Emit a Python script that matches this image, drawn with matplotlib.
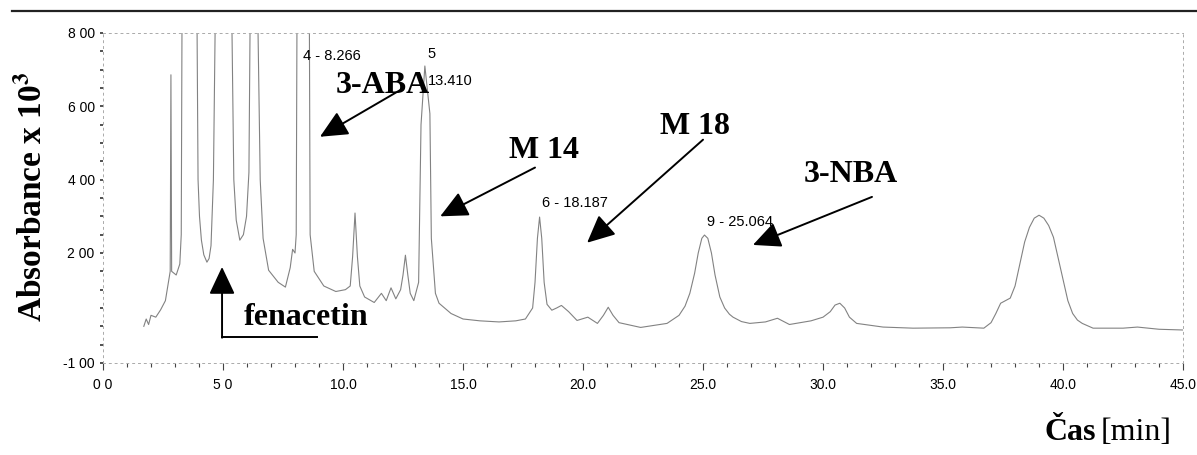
import matplotlib.pyplot as plt
from matplotlib.lines import Line2D

plt.rcParams['font.family'] = ['Liberation Sans', 'DejaVu Sans']
plt.rcParams['mathtext.fontset'] = 'stix'

# chromatogram trace (time in min, absorbance x 10^3 / 100)
cas = [1.7, 1.8, 1.9, 2.0, 2.2, 2.4, 2.6, 2.8, 2.83, 2.86, 3.05, 3.2, 3.26, 3.29, 3.6,
       3.92, 3.96, 4.02, 4.1, 4.2, 4.33, 4.42, 4.5, 4.6, 4.67, 5.0, 5.375, 5.45, 5.55,
       5.7, 5.85, 5.98, 6.08, 6.125, 6.3, 6.46, 6.55, 6.67, 6.9, 7.3, 7.6, 7.8, 7.9,
       8.0, 8.05, 8.08, 8.27, 8.6, 8.63, 8.8, 9.2, 9.7, 10.1, 10.3, 10.4, 10.5, 10.6,
       10.7, 10.9, 11.3, 11.6, 11.8, 12.0, 12.2, 12.4, 12.5, 12.6, 12.7, 12.8, 12.95,
       13.15, 13.25, 13.41, 13.62, 13.68, 13.85, 14.0, 14.5, 15.0, 15.7, 16.5, 17.2,
       17.6, 17.9, 18.0, 18.1, 18.19, 18.28, 18.38, 18.5, 18.7, 18.9, 19.1, 19.4,
       19.75, 20.2, 20.6, 20.85, 21.05, 21.25, 21.5, 22.4, 23.5, 24.0, 24.25, 24.45,
       24.65, 24.8, 24.95, 25.06, 25.2, 25.35, 25.5, 25.7, 25.9, 26.1, 26.25, 26.6,
       26.95, 27.6, 28.1, 28.6, 29.5, 30.0, 30.3, 30.5, 30.7, 30.9, 31.1, 31.4, 32.5,
       33.75, 35.3, 35.8, 36.7, 37.0, 37.2, 37.4, 37.8, 38.0, 38.2, 38.4, 38.6, 38.8,
       39.0, 39.2, 39.4, 39.6, 39.8, 40.0, 40.2, 40.4, 40.6, 40.8, 41.25, 42.5, 43.1,
       44.0, 45.0]
absorb = [0.0, 0.2, 0.05, 0.3, 0.25, 0.45, 0.7, 1.5, 6.86, 1.5, 1.4, 1.7, 2.5, 8.0, 11.0,
          8.0, 4.0, 3.0, 2.35, 1.95, 1.75, 1.85, 2.2, 4.0, 8.0, 11.0, 8.0, 4.0, 2.9,
          2.35, 2.5, 3.0, 4.2, 8.0, 11.0, 8.0, 4.0, 2.4, 1.53, 1.2, 1.07, 1.6, 2.1,
          2.0, 2.5, 8.0, 11.0, 8.0, 2.5, 1.5, 1.1, 0.95, 1.0, 1.1, 1.9, 3.09, 1.9,
          1.1, 0.8, 0.65, 0.9, 0.7, 1.05, 0.75, 1.0, 1.4, 1.94, 1.4, 0.9, 0.7,
          1.2, 5.5, 7.1, 5.8, 2.4, 0.9, 0.63, 0.35, 0.2, 0.15, 0.12, 0.15,
          0.2, 0.5, 1.2, 2.4, 2.98, 2.4, 1.2, 0.6, 0.44, 0.5, 0.57, 0.4,
          0.16, 0.25, 0.08, 0.3, 0.52, 0.3, 0.1, -0.03, 0.08, 0.3, 0.55, 0.9,
          1.45, 2.0, 2.4, 2.49, 2.4, 2.0, 1.4, 0.8, 0.5, 0.33, 0.25, 0.13,
          0.08, 0.12, 0.22, 0.05, 0.15, 0.25, 0.4, 0.58, 0.63, 0.5, 0.25, 0.08, -0.02,
          -0.05, -0.04, -0.02, -0.05, 0.1, 0.35, 0.63, 0.77, 1.1, 1.7, 2.3, 2.7, 2.95,
          3.03, 2.95, 2.75, 2.43, 1.85, 1.26, 0.7, 0.35, 0.17, 0.08, -0.05, -0.05, -0.02,
          -0.08, -0.1]

y_ticks = [8, 6, 4, 2, -1]
y_labels = ['8 00', '6 00', '4 00', '2 00', '-1 00']
x_ticks = [0, 5, 10, 15, 20, 25, 30, 35, 40, 45]
x_labels = ['0 0', '5 0', '10.0', '15.0', '20.0', '25.0', '30.0', '35.0', '40.0', '45.0']

peak_labels = [('4 - 8.266', 8.35, 7.38), ('5', 13.5, 7.42), ('13.410', 13.55, 6.7),
               ('6 - 18.187', 18.3, 3.36), ('9 - 25.064', 25.17, 2.84)]

# name, text centre, arrow tail, arrow tip
latky = [('3-ABA', (11.67, 6.58), (12.4, 6.45), (9.04, 5.17)),
         ('M 14', (18.37, 4.8), (18.0, 4.33), (14.05, 3.0)),
         ('M 18', (24.67, 5.46), (25.0, 5.09), (20.17, 2.28)),
         ('3-NBA', (31.17, 4.15), (32.04, 3.53), (27.08, 2.22))]

fig = plt.figure(figsize=(11.97, 4.55), dpi=100)
ax = fig.add_axes([0.08605, 0.2022, 0.9023, 0.7253])

ax.plot(cas, absorb, color='#828282', lw=0.8)

ax.set_xlim(0, 45)
ax.set_ylim(-1, 8)

ax.set_yticks([v / 2 for v in range(-2, 17)], minor=True)
ax.set_yticks(y_ticks)
ax.set_yticklabels(y_labels, fontsize=10)
ax.set_xticks(range(0, 46), minor=True)
ax.set_xticks(x_ticks)
ax.set_xticklabels(x_labels, fontsize=10)
ax.tick_params(axis='y', which='both', length=2, width=1.2, color='#333', pad=4)
ax.tick_params(axis='x', which='major', length=5, width=0.8, color='#444', pad=6)
ax.tick_params(axis='x', which='minor', length=3, width=0.8, color='#444')

for side in ['left', 'bottom', 'right', 'top']:
    ax.spines[side].set_color('#aaaaaa')
    ax.spines[side].set_linewidth(0.7)
    ax.spines[side].set_linestyle((0, (2, 4)))

for txt, x, y in peak_labels:
    ax.text(x, y, txt, fontsize=10.5, ha='left', va='center')

for name, pos, tail, tip in latky:
    ax.text(pos[0], pos[1], name, fontsize=23, fontweight='bold',
            family='Liberation Serif', ha='center', va='center')
    ax.annotate('', xy=tip, xytext=tail,
                arrowprops=dict(arrowstyle='-|>,head_length=0.85,head_width=0.4',
                                mutation_scale=20, lw=1.4, color='black',
                                shrinkA=0, shrinkB=0))

# fenacetin: L-shaped arrow
ax.text(8.45, 0.23, 'fenacetin', fontsize=23, fontweight='bold',
        family='Liberation Serif', ha='center', va='center')
ax.plot([4.96, 8.92], [-0.29, -0.29], color='black', lw=1.4)
ax.annotate('', xy=(4.96, 1.62), xytext=(4.96, -0.31),
            arrowprops=dict(arrowstyle='-|>,head_length=0.85,head_width=0.4',
                            mutation_scale=20, lw=1.4, color='black',
                            shrinkA=0, shrinkB=0))

fig.text(33 / 1197, 1 - 197 / 455, r'Absorbance x 10$^{\mathbf{3}}$',
         rotation=90, ha='center', va='center', fontsize=24,
         fontweight='bold', family='Liberation Serif')

fig.text(1045 / 1197, 1 - 440 / 455, 'Čas', fontsize=23, fontweight='bold',
         family='Liberation Serif', ha='left', va='baseline')
fig.text(1172 / 1197, 1 - 440 / 455, '[min]', fontsize=23,
         family='Liberation Serif', ha='right', va='baseline')

# page rule at the top
fig.add_artist(Line2D([12 / 1197, 1.0], [1 - 11 / 455, 1 - 11 / 455],
                      color='#222', lw=1.6))

fig.savefig('out.png', dpi=100)
